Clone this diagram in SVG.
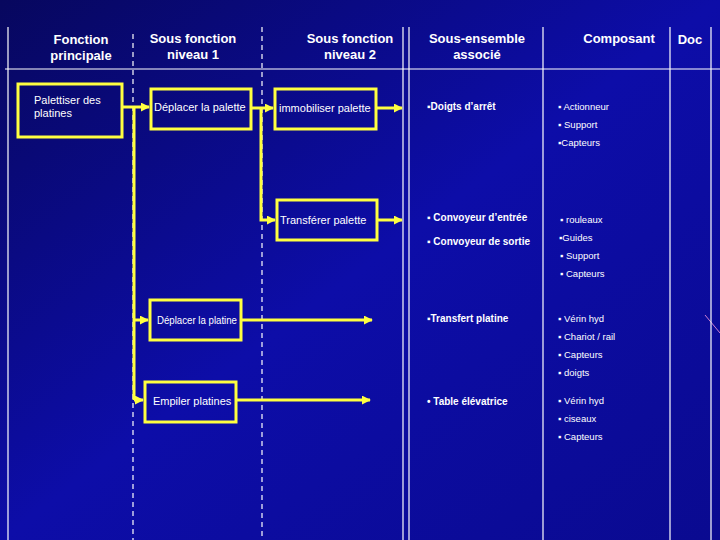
<svg xmlns="http://www.w3.org/2000/svg" width="720" height="540" viewBox="0 0 720 540">
<defs>
<linearGradient id="bg" x1="0" y1="0" x2="1" y2="1">
<stop offset="0" stop-color="#07075e"/>
<stop offset="0.5" stop-color="#0d0da8"/>
<stop offset="1" stop-color="#0a0a90"/>
</linearGradient>
<marker id="ah" viewBox="0 0 10 10" refX="9" refY="5" markerWidth="3" markerHeight="3" orient="auto"><path d="M0,0 L10,5 L0,10 z" fill="#ffff40"/></marker>
<style>
.w{stroke:#fff;stroke-width:1.2;fill:none}
.d{stroke:#fff;stroke-width:1.2;stroke-dasharray:5,4;fill:none}
.box{fill:none;stroke:#ffff40;stroke-width:3}
.c{stroke:#ffff40;stroke-width:3;fill:none}
.h{font-family:"Liberation Sans",Arial,sans-serif;font-size:13px;font-weight:bold;fill:#fff;text-anchor:middle}
.t{font-family:"Liberation Sans",Arial,sans-serif;font-size:11px;fill:#fff}
.b{font-family:"Liberation Sans",Arial,sans-serif;font-size:10px;font-weight:bold;fill:#fff}
.s{font-family:"Liberation Sans",Arial,sans-serif;font-size:9.5px;fill:#fff}
</style>
</defs>
<rect width="720" height="540" fill="url(#bg)"/>
<line x1="705" y1="315" x2="720" y2="333" stroke="#d080d0" stroke-width="1"/>
<g id="grid">
<line class="w" x1="5" y1="69" x2="720" y2="69"/>
<line class="w" x1="8" y1="27" x2="8" y2="540"/>
<line class="d" x1="133" y1="34" x2="133" y2="540"/>
<line class="d" x1="262" y1="27" x2="262" y2="540"/>
<line class="w" x1="403" y1="27" x2="403" y2="540"/>
<line class="w" x1="409" y1="27" x2="409" y2="540"/>
<line class="w" x1="543" y1="27" x2="543" y2="540"/>
<line class="w" x1="670" y1="27" x2="670" y2="540"/>
<line class="w" x1="711" y1="27" x2="711" y2="540"/>
</g>
<g id="headers">
<text class="h" x="81" y="44">Fonction</text><text class="h" x="81" y="60">principale</text>
<text class="h" x="193" y="43">Sous fonction</text><text class="h" x="193" y="59">niveau 1</text>
<text class="h" x="350" y="43">Sous fonction</text><text class="h" x="350" y="59">niveau 2</text>
<text class="h" x="477" y="43">Sous-ensemble</text><text class="h" x="477" y="59">associé</text>
<text class="h" x="619" y="43">Composant</text>
<text class="h" x="690" y="44">Doc</text>
</g>
<g id="connectors">
<path class="c" d="M122,107 H149" marker-end="url(#ah)"/>
<path class="c" d="M134,107 V400"/>
<path class="c" d="M134,320 H148" marker-end="url(#ah)"/>
<path class="c" d="M134,400 H143" marker-end="url(#ah)"/>
<path class="c" d="M251,108 H273" marker-end="url(#ah)"/>
<path class="c" d="M261,108 V220 H275" marker-end="url(#ah)"/>
<path class="c" d="M376,108 H402" marker-end="url(#ah)"/>
<path class="c" d="M377,220 H402" marker-end="url(#ah)"/>
<path class="c" d="M241,320 H372" marker-end="url(#ah)"/>
<path class="c" d="M236,400 H370" marker-end="url(#ah)"/>
</g>
<g id="n1"><rect class="box" x="18" y="84" width="104" height="53"/><text class="t" x="34" y="104">Palettiser des</text><text class="t" x="34" y="117">platines</text></g>
<g id="n2"><rect class="box" x="151" y="89" width="100" height="40"/><text class="t" x="154" y="111">Déplacer la palette</text></g>
<g id="n3"><rect class="box" x="275" y="89" width="101" height="40"/><text class="t" x="279" y="112">immobiliser palette</text></g>
<g id="n4"><rect class="box" x="277" y="200" width="100" height="40"/><text class="t" x="280" y="224">Transférer  palette</text></g>
<g id="n5"><rect class="box" x="150" y="300" width="91" height="40"/><text class="t" x="157" y="324" font-size="10.5" textLength="80" lengthAdjust="spacingAndGlyphs">Déplacer la platine</text></g>
<g id="n6"><rect class="box" x="145" y="382" width="91" height="40"/><text class="t" x="153" y="405">Empiler platines</text></g>
<g id="sub">
<text class="b" x="427" y="110">▪Doigts d’arrêt</text>
<text class="b" x="427" y="221">▪ Convoyeur  d’entrée</text>
<text class="b" x="427" y="245">▪ Convoyeur  de sortie</text>
<text class="b" x="427" y="322">▪Transfert platine</text>
<text class="b" x="427" y="405">• Table élévatrice</text>
</g>
<g id="comp">
<text class="s" x="558" y="110">▪ Actionneur</text>
<text class="s" x="558" y="128">▪ Support</text>
<text class="s" x="558" y="146">▪Capteurs</text>
<text class="s" x="560" y="223">▪ rouleaux</text>
<text class="s" x="559" y="241">▪Guides</text>
<text class="s" x="560" y="259">▪ Support</text>
<text class="s" x="560" y="277">▪ Capteurs</text>
<text class="s" x="558" y="322">▪ Vérin hyd</text>
<text class="s" x="558" y="340">▪ Chariot  / rail</text>
<text class="s" x="558" y="358">▪ Capteurs</text>
<text class="s" x="558" y="376">▪ doigts</text>
<text class="s" x="558" y="404">▪ Vérin hyd</text>
<text class="s" x="558" y="422">▪ ciseaux</text>
<text class="s" x="558" y="440">▪ Capteurs</text>
</g>
</svg>
